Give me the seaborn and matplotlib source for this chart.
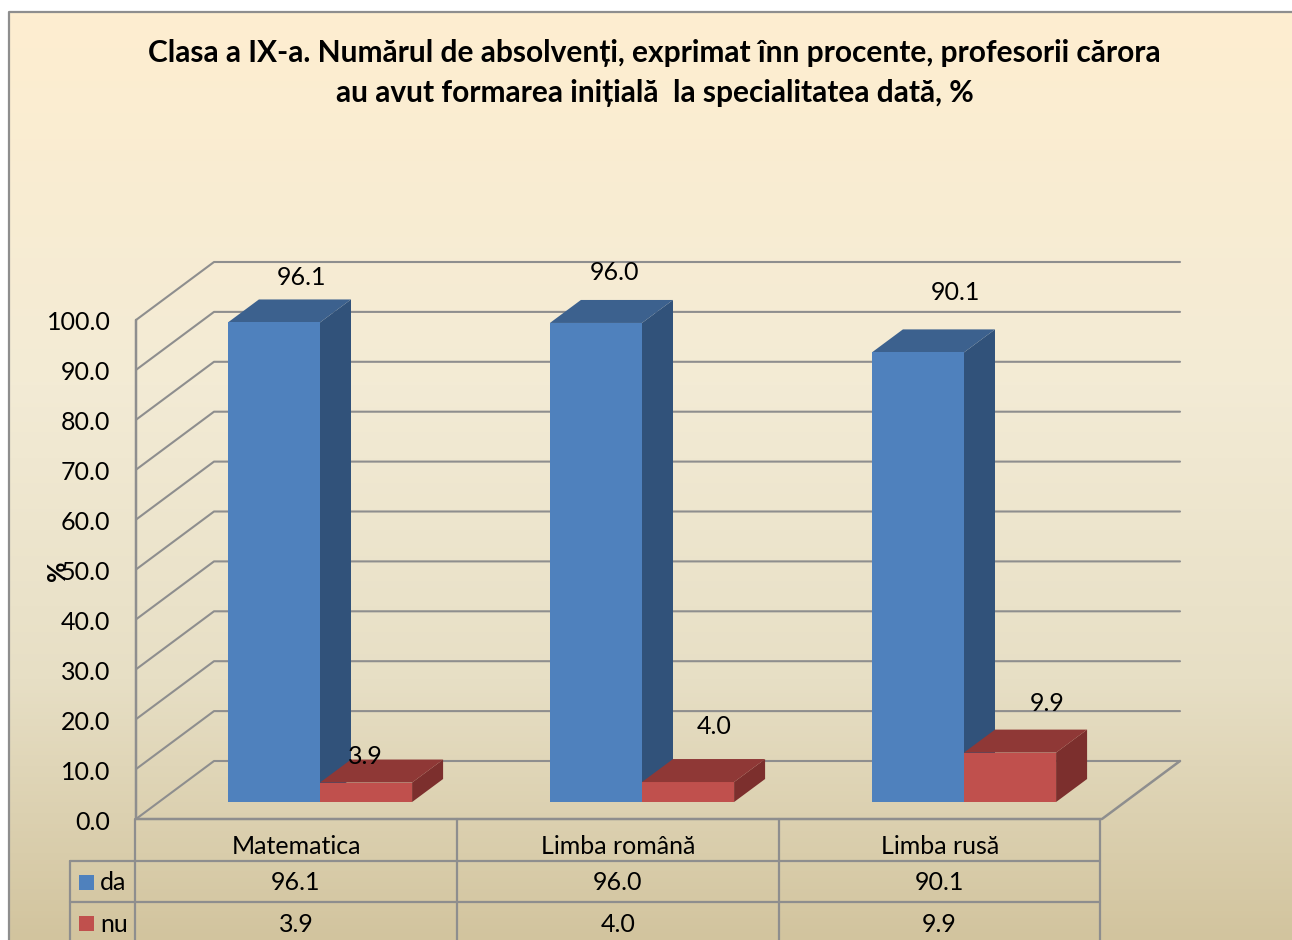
# -*- coding: utf-8 -*-
# Clasa a IX-a: 3D style clustered bars with a data table under the axis
import numpy as np
import pandas as pd
import seaborn as sns
import matplotlib.pyplot as plt
from matplotlib.colors import LinearSegmentedColormap
from matplotlib.lines import Line2D
from matplotlib.patches import Polygon, Rectangle
from matplotlib.transforms import Affine2D, IdentityTransform

categories = ['Matematica', 'Limba română', 'Limba rusă']
series_names = ['da', 'nu']
da_values = [96.1, 96.0, 90.1]
nu_values = [3.9, 4.0, 9.9]
y_ticks = [0, 10, 20, 30, 40, 50, 60, 70, 80, 90, 100]

title_text = ('Clasa a IX-a. Numărul de absolvenți, exprimat înn procente, profesorii cărora\n'
              'au avut formarea inițială  la specialitatea dată, %')

W, H = 1292, 940
FS = 18
LINE = '#8E8E8E'
front = {'da': '#4F81BD', 'nu': '#C0504D'}
side = {'da': '#31527A', 'nu': '#7C2F2D'}
top = {'da': '#3C618E', 'nu': '#8F3836'}
# label shift from the bar front top centre, pixels
label_shift = {'da': [(28, 45), (19, 50), (37, 60)], 'nu': [(-1, 26), (26, 56), (37, 49)]}

sns.set_theme(style='white')
plt.rcParams['font.family'] = ['Lato', 'DejaVu Sans']
fig = plt.figure(figsize=(W / 100, H / 100), dpi=100, facecolor='white')


def fx(x):
    return x / W


def fy(y):
    return 1 - y / H


# background gradient
bg = fig.add_axes([fx(9), 0, 1 - fx(9), fy(12)], zorder=0)
cmap = LinearSegmentedColormap.from_list('bg', [(0, '#FEEED0'), (0.4, '#F3EBD5'), (0.72, '#E7DFC5'), (1, '#D2C49E')])
bg.imshow(np.linspace(0, 1, 256).reshape(-1, 1), aspect='auto', cmap=cmap)
bg.axis('off')
fig.add_artist(Line2D([fx(9), fx(9), 1], [0, fy(12), fy(12)], color=LINE, lw=1.6, transform=fig.transFigure, zorder=1))

# the axes rectangle is the plane of the bar fronts
ax = fig.add_axes([fx(159), fy(802), fx(966), 499 / H], zorder=2)
ax.patch.set_alpha(0)
df = pd.DataFrame({'cat': categories * 2,
                   'serie': ['da'] * 3 + ['nu'] * 3,
                   'val': da_values + nu_values})
sns.barplot(data=df, x='cat', y='val', hue='serie', hue_order=series_names, palette=front,
            width=0.572, gap=0, saturation=1, errorbar=None, legend=False, zorder=3,
            edgecolor='none', linewidth=0, ax=ax)
ax.set_xlim(-0.5, 2.5)
ax.set_ylim(0, 100)
ax.set_xlabel('')
ax.set_ylabel('')
sns.despine(ax=ax, left=True, bottom=True)


def disp(x, y, dx=0, dy=0):
    px, py = ax.transData.transform((x, y))
    return (px + dx, py + dy)


# walls, floor, front axis
left, right = ax.get_xlim()
for v in y_ticks:
    a = disp(left, v, -23, -17)
    b = disp(left, v, 55, 41)
    c = disp(right, v, 55, 41)
    ax.add_line(Line2D(*zip(a, b, c), color=LINE, lw=1.5, transform=IdentityTransform(), zorder=1, clip_on=False))
a = disp(left, 100, -23, -17)
b = disp(left, 0, -23, -17)
c = disp(right, 0, -23, -17)
d = disp(right, 0, 55, 41)
ax.add_line(Line2D(*zip(a, b, c, d), color=LINE, lw=1.8, transform=IdentityTransform(), zorder=1, clip_on=False))

# side and top faces from the seaborn bars
bars = list(ax.patches)
depth = (31, 23)
for i, bar in enumerate(bars):
    name = series_names[i // 3]
    x0, x1 = bar.get_x(), bar.get_x() + bar.get_width()
    h = bar.get_height()
    z = 2 if name == 'da' else 3
    ax.add_patch(Polygon([disp(x1, 0), disp(x1, h), disp(x1, h, *depth), disp(x1, 0, *depth)], closed=True,
                         facecolor=side[name], edgecolor='none', transform=IdentityTransform(), zorder=z, clip_on=False))
    ax.add_patch(Polygon([disp(x0, h), disp(x1, h), disp(x1, h, *depth), disp(x0, h, *depth)], closed=True,
                         facecolor=top[name], edgecolor='none', transform=IdentityTransform(), zorder=z, clip_on=False))
    dx, dy = label_shift[name][i % 3]
    ax.annotate(f'{h:.1f}', (bar.get_x() + bar.get_width() / 2, h), xytext=(dx, dy), textcoords='offset pixels',
                ha='center', va='center', fontsize=FS, color='black', zorder=5, annotation_clip=False)

# tick labels sit on the front plane, not on the bar plane
ax.set_yticks(y_ticks)
ax.set_yticklabels([f'{v:.1f}' for v in y_ticks], fontsize=FS, color='black')
ax.tick_params(axis='y', length=0, pad=35)
for lab in ax.get_yticklabels():
    lab.set_transform(lab.get_transform() + Affine2D().translate(0, -18))
ax.tick_params(axis='x', length=0, pad=24, labelsize=FS, labelcolor='black')
for lab in ax.get_xticklabels():
    lab.set_transform(lab.get_transform() + Affine2D().translate(-24, 0))

fig.text(fx(58), fy(571), '%', rotation=90, ha='center', va='center', fontsize=FS, fontweight='bold', color='black', zorder=6)
fig.text(fx(654.5), fy(73), title_text, ha='center', va='center', fontsize=21.5, fontweight='bold',
         color='black', linespacing=1.48, zorder=6)

# data table under the axis
col_x = [135, 457, 779, 1100]
row_y = [861, 902]


def tline(xs, ys):
    fig.add_artist(Line2D([fx(x) for x in xs], [fy(y) for y in ys], color=LINE, lw=1.6, transform=fig.transFigure, zorder=3))


for x in col_x:
    tline([x, x], [819, 945])
tline([70, 70], [861, 945])
for y in row_y:
    tline([70, 1100], [y, y])

for name, vals, y in zip(series_names, [da_values, nu_values], [883, 924]):
    fig.add_artist(Rectangle((fx(79), fy(y + 7)), 15 / W, 15 / H, facecolor=front[name], edgecolor='none',
                             transform=fig.transFigure, zorder=4))
    fig.text(fx(100), fy(y), name, ha='left', va='center', fontsize=FS, color='black', zorder=6)
    for k, v in enumerate(vals):
        fig.text(fx((col_x[k] + col_x[k + 1]) / 2), fy(y), f'{v:.1f}', ha='center', va='center',
                 fontsize=FS, color='black', zorder=6)

fig.savefig('out.png', dpi=100)
